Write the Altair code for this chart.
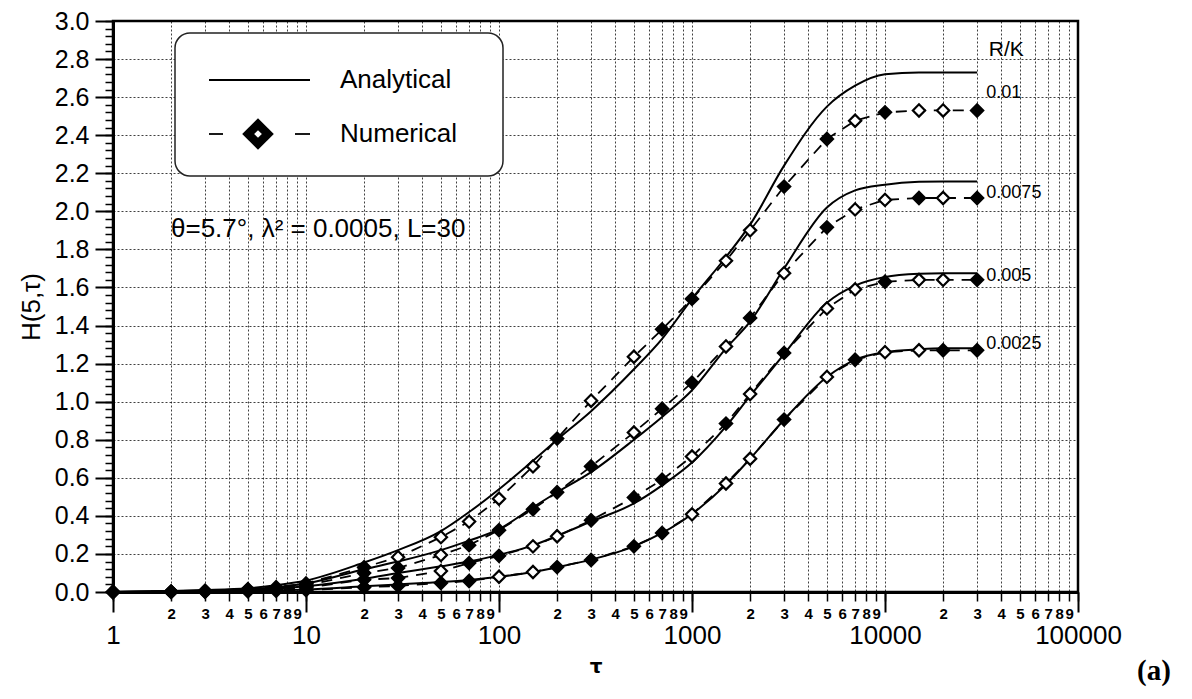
import altair as alt
import pandas as pd

# ---------------- data ----------------
T = [1, 2, 3, 5, 7, 10, 20, 30, 50, 70, 100, 150, 200, 300, 500, 700,
     1000, 1500, 2000, 3000, 5000, 7000, 10000, 15000, 20000, 30000]
SERIES = ["0.01", "0.0075", "0.005", "0.0025"]

ANA_001 = [0.0, 0.005, 0.01, 0.02, 0.035, 0.06, 0.155, 0.22, 0.32, 0.42, 0.54, 0.69, 0.80, 0.95,
           1.17, 1.33, 1.54, 1.76, 1.93, 2.24, 2.55, 2.66, 2.72, 2.73, 2.73, 2.73]
ANA_0075 = [0.0, 0.004, 0.008, 0.015, 0.025, 0.045, 0.12, 0.16, 0.22, 0.27, 0.33, 0.445, 0.524, 0.63,
            0.80, 0.92, 1.06, 1.28, 1.42, 1.70, 2.02, 2.11, 2.14, 2.155, 2.157, 2.157]
ANA_0050 = [0.0, 0.003, 0.006, 0.012, 0.018, 0.03, 0.07, 0.10, 0.135, 0.16, 0.195, 0.245, 0.295, 0.37,
            0.465, 0.56, 0.68, 0.87, 1.03, 1.25, 1.52, 1.61, 1.655, 1.672, 1.675, 1.675]
ANA_0025 = [0.0, 0.002, 0.003, 0.006, 0.009, 0.013, 0.03, 0.04, 0.052, 0.063, 0.08, 0.105, 0.13, 0.17,
            0.24, 0.31, 0.41, 0.565, 0.70, 0.905, 1.13, 1.22, 1.26, 1.275, 1.28, 1.28]

NUM_001 = [0.0, 0.002, 0.006, 0.015, 0.025, 0.045, 0.13, 0.183, 0.288, 0.37, 0.49, 0.66, 0.806, 1.005,
           1.236, 1.38, 1.54, 1.74, 1.90, 2.13, 2.38, 2.476, 2.52, 2.53, 2.53, 2.53]
NUM_0075 = [0.0, 0.002, 0.005, 0.012, 0.02, 0.035, 0.10, 0.126, 0.194, 0.246, 0.325, 0.435, 0.524, 0.66,
            0.838, 0.963, 1.10, 1.29, 1.44, 1.675, 1.916, 2.01, 2.06, 2.07, 2.07, 2.07]
NUM_0050 = [0.0, 0.001, 0.003, 0.008, 0.013, 0.022, 0.065, 0.073, 0.11, 0.152, 0.19, 0.24, 0.293, 0.377,
            0.497, 0.59, 0.712, 0.885, 1.04, 1.256, 1.49, 1.59, 1.63, 1.64, 1.64, 1.64]
NUM_0025 = [0.0, 0.0005, 0.001, 0.004, 0.006, 0.01, 0.025, 0.032, 0.047, 0.058, 0.08, 0.105, 0.131, 0.168,
            0.24, 0.31, 0.408, 0.57, 0.70, 0.906, 1.13, 1.22, 1.26, 1.27, 1.27, 1.27]

# marker style: y = solid black diamond, n = open diamond
FILL_001 = ["y", "y", "y", "y", "y", "y", "y", "n", "n", "n", "n", "n", "y", "n",
            "n", "y", "y", "n", "n", "y", "y", "n", "y", "n", "n", "y"]
FILL_0075 = ["y", "y", "y", "y", "y", "y", "y", "y", "n", "y", "y", "y", "y", "y",
             "n", "y", "y", "n", "y", "n", "y", "n", "n", "y", "n", "y"]
FILL_0050 = ["y", "y", "y", "y", "y", "y", "y", "y", "n", "y", "y", "n", "n", "y",
             "y", "y", "n", "y", "n", "y", "n", "n", "y", "n", "n", "y"]
FILL_0025 = ["y", "y", "y", "y", "y", "y", "y", "y", "y", "y", "n", "n", "y", "y",
             "y", "y", "n", "n", "n", "y", "n", "y", "n", "n", "y", "y"]

LABEL_T = [33500, 33500, 33500, 33500]
LABEL_H = [2.62, 2.095, 1.66, 1.305]
RK_T = [34500]
RK_H = [2.85]

ana = [ANA_001, ANA_0075, ANA_0050, ANA_0025]
num = [NUM_001, NUM_0075, NUM_0050, NUM_0025]
fil = [FILL_001, FILL_0075, FILL_0050, FILL_0025]

rows_a, rows_n = [], []
for s, a, n, f in zip(SERIES, ana, num, fil):
    for t, av, nv, fv in zip(T, a, n, f):
        rows_a.append({"t": t, "H": av, "rk": s})
        rows_n.append({"t": t, "H": nv, "rk": s, "filled": fv})
df_a = pd.DataFrame(rows_a)
df_n = pd.DataFrame(rows_n)
df_lab = pd.DataFrame({"t": LABEL_T, "H": LABEL_H, "txt": SERIES})
df_rk = pd.DataFrame({"t": RK_T, "H": RK_H, "txt": ["R/K"]})
dummy = pd.DataFrame({"a": [0]})

FONT = "Liberation Sans"

# ---------------- scales / axes ----------------
xscale = alt.Scale(type="log", domain=[1, 100000], nice=False)
yscale = alt.Scale(domain=[0, 3.0], nice=False, zero=False)

minor_vals = [m * 10 ** d for d in range(0, 5) for m in range(1, 10)] + [100000]
decades = [1, 10, 100, 1000, 10000, 100000]

axis_minor_x = alt.Axis(
    orient="bottom", values=minor_vals, title=None,
    labelExpr="substring(toString(datum.value),0,1) == '1' ? '' : substring(toString(datum.value),0,1)",
    labelFont=FONT, labelFontSize=15, labelFontWeight="bold", labelColor="black",
    labelOverlap=False, labelBound=False, labelFlush=False, labelPadding=5,
    tickSize=9, tickWidth=1.5, tickColor="black",
    domainWidth=3, domainColor="black",
    grid=True, gridDash=[2, 2], gridColor="black", gridOpacity=0.75, gridWidth=1,
)
axis_dec_x = alt.Axis(
    orient="bottom", values=decades, format="d", title="τ",
    labelFont=FONT, labelFontSize=26, labelColor="black",
    labelOverlap=False, labelBound=False, labelFlush=False, labelPadding=10,
    tickSize=20, tickWidth=2, tickColor="black",
    domain=False, grid=False,
    titleFont="DejaVu Sans", titleFontSize=20, titleFontWeight="bold", titleColor="black",
    titlePadding=8,
)
axis_main_y = alt.Axis(
    orient="left", values=[round(0.2 * k, 1) for k in range(16)], format=".1f",
    title="H(5,τ)", titleFont=FONT, titleFontSize=26, titleFontWeight="normal",
    titleColor="black", titlePadding=10,
    labelFont=FONT, labelFontSize=25, labelColor="black", labelPadding=6,
    tickSize=18, tickWidth=2, tickColor="black",
    domainWidth=3, domainColor="black",
    grid=True, gridDash=[2, 2], gridColor="black", gridOpacity=0.75, gridWidth=1,
)
axis_minor_y = alt.Axis(
    orient="left", values=[round(0.04 * k, 2) for k in range(76)],
    labels=False, title=None, tickSize=8, tickWidth=1.5, tickColor="black",
    domain=False, grid=False,
)

# ---------------- layers ----------------
analytic = alt.Chart(df_a).mark_line(color="black", strokeWidth=2, interpolate="monotone").encode(
    x=alt.X("t:Q", scale=xscale, axis=axis_minor_x),
    y=alt.Y("H:Q", scale=yscale, axis=axis_main_y),
    detail="rk:N",
)
numeric_line = alt.Chart(df_n).mark_line(color="black", strokeWidth=1.8, strokeDash=[11, 8]).encode(
    x=alt.X("t:Q", scale=xscale, axis=axis_dec_x),
    y=alt.Y("H:Q", scale=yscale, axis=axis_minor_y),
    detail="rk:N",
)
points = alt.Chart(df_n).mark_point(shape="diamond", size=150, stroke="black", strokeWidth=2.2,
                                     opacity=1, filled=False).encode(
    x=alt.X("t:Q", scale=xscale, axis=None),
    y=alt.Y("H:Q", scale=yscale, axis=None),
    fill=alt.Fill("filled:N", scale=alt.Scale(domain=["y", "n"], range=["black", "white"]), legend=None),
    detail="rk:N",
)
labels = alt.Chart(df_lab).mark_text(font=FONT, fontSize=18, align="left", baseline="middle",
                                      color="black").encode(
    x=alt.X("t:Q", scale=xscale, axis=None),
    y=alt.Y("H:Q", scale=yscale, axis=None),
    text="txt:N",
)
rk = alt.Chart(df_rk).mark_text(font=FONT, fontSize=21, align="left", baseline="middle",
                                 color="black").encode(
    x=alt.X("t:Q", scale=xscale, axis=None),
    y=alt.Y("H:Q", scale=yscale, axis=None),
    text="txt:N",
)

# legend box
leg_box = alt.Chart(dummy).mark_rect(fill="white", stroke="#222", strokeWidth=1.5, cornerRadius=15).encode(
    x=alt.value(62), x2=alt.value(390), y=alt.value(12), y2=alt.value(155))
leg_line = alt.Chart(dummy).mark_rule(color="black", strokeWidth=2).encode(
    x=alt.value(96), x2=alt.value(197), y=alt.value(59))
leg_d1 = alt.Chart(dummy).mark_rule(color="black", strokeWidth=1.8).encode(
    x=alt.value(96), x2=alt.value(110), y=alt.value(113))
leg_d2 = alt.Chart(dummy).mark_rule(color="black", strokeWidth=1.8).encode(
    x=alt.value(182), x2=alt.value(197), y=alt.value(113))
leg_dia = alt.Chart(dummy).mark_point(shape="diamond", size=1000, filled=True, color="black", opacity=1).encode(
    x=alt.value(145), y=alt.value(113))
leg_dia_in = alt.Chart(dummy).mark_point(shape="diamond", size=60, filled=True, color="white", opacity=1).encode(
    x=alt.value(145), y=alt.value(113))
leg_t1 = alt.Chart(dummy).mark_text(text="Analytical", font=FONT, fontSize=26, align="left",
                                     baseline="middle", color="black").encode(
    x=alt.value(227), y=alt.value(59))
leg_t2 = alt.Chart(dummy).mark_text(text="Numerical", font=FONT, fontSize=26, align="left",
                                     baseline="middle", color="black").encode(
    x=alt.value(227), y=alt.value(113))
annot = alt.Chart(dummy).mark_text(text="θ=5.7°, λ² = 0.0005, L=30", font=FONT, fontSize=26,
                                    align="left", baseline="middle", color="black").encode(
    x=alt.value(58), y=alt.value(208))
tag = alt.Chart(dummy).mark_text(text="(a)", font="Liberation Serif", fontSize=29, fontWeight="bold",
                                  align="left", baseline="middle", color="black").encode(
    x=alt.value(1024), y=alt.value(650))

chart = alt.layer(
    analytic, numeric_line, points, labels, rk,
    leg_box, leg_line, leg_d1, leg_d2, leg_dia, leg_dia_in, leg_t1, leg_t2, annot, tag,
).resolve_axis(x="independent", y="independent").properties(
    width=965, height=571,
    autosize=alt.AutoSizeParams(type="none"),
    padding={"left": 105, "top": 13, "right": 106, "bottom": 99},
    background="white",
).configure_view(stroke="black", strokeWidth=2.5)

chart.save("out.html", embed_options={"renderer": "svg", "actions": False})
